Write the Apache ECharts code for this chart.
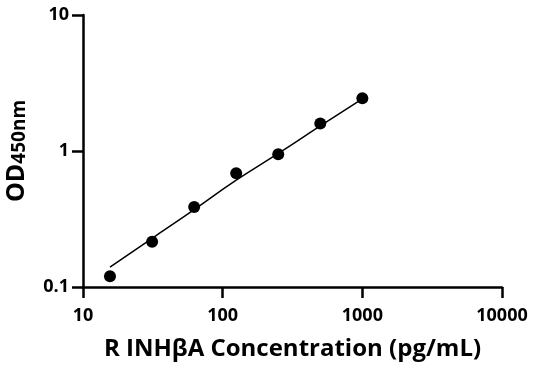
<!DOCTYPE html>
<html>
<head>
<meta charset="utf-8">
<script src="https://cdn.jsdelivr.net/npm/echarts@6/dist/echarts.min.js"></script>
<style>
html,body{margin:0;padding:0;background:#fff;}
#c{width:536px;height:371px;}
</style>
</head>
<body>
<div id="c"></div>
<script>
// Data
const concentrations = [15.6, 31.25, 62.5, 125, 250, 500, 1000];
const odValues = [0.12, 0.215, 0.387, 0.685, 0.946, 1.59, 2.44];
const fitX = [15.6, 31.25, 62.5, 125, 250, 500, 1000];
const fitY = [0.14, 0.228, 0.37, 0.61, 0.96, 1.53, 2.42];
const xTickLabels = ['10', '100', '1000', '10000'];
const yTickLabels = ['0.1', '1', '10'];

const chart = echarts.init(document.getElementById('c'), null, {renderer: 'canvas'});
const font = '"Open Sans", "DejaVu Sans", sans-serif';
const axisLineStyle = {color: '#000', width: 2.5};

chart.setOption({
  animation: false,
  backgroundColor: '#fff',
  grid: {left: 83, right: 34, top: 15, bottom: 84, containLabel: false, outerBoundsMode: 'none'},
  xAxis: {
    type: 'log', logBase: 10, min: 10, max: 10000,
    name: 'R INHβA Concentration (pg/mL)',
    nameLocation: 'middle', nameGap: 50,
    nameTextStyle: {fontFamily: font, fontWeight: 'bold', fontSize: 24, color: '#000'},
    axisLine: {show: true, onZero: false, lineStyle: axisLineStyle},
    axisTick: {show: true, length: 11, lineStyle: axisLineStyle},
    minorTick: {show: false},
    splitLine: {show: false},
    axisLabel: {
      margin: 20, fontFamily: font, fontWeight: 'bold', fontSize: 18, color: '#000',
      formatter: v => { const i = Math.round(Math.log10(v)) - 1; return xTickLabels[i] ?? ''; }
    }
  },
  yAxis: {
    type: 'log', logBase: 10, min: 0.1, max: 10,
    name: '{a|OD}{b|450nm}',
    nameLocation: 'middle', nameGap: 54,
    nameTextStyle: {
      fontFamily: font, fontWeight: 'bold', color: '#000',
      rich: {
        a: {fontFamily: font, fontWeight: 'bold', fontSize: 25, color: '#000', verticalAlign: 'bottom'},
        b: {fontFamily: font, fontWeight: 'bold', fontSize: 19, color: '#000', verticalAlign: 'bottom'}
      }
    },
    axisLine: {show: true, onZero: false, lineStyle: axisLineStyle},
    axisTick: {show: true, length: 11, lineStyle: axisLineStyle},
    minorTick: {show: false},
    splitLine: {show: false},
    axisLabel: {
      margin: 14, fontFamily: font, fontWeight: 'bold', fontSize: 18, color: '#000',
      formatter: v => { const i = Math.round(Math.log10(v)) + 1; return yTickLabels[i] ?? ''; }
    }
  },
  series: [
    {
      type: 'line',
      data: fitX.map((x, i) => [x, fitY[i]]),
      showSymbol: false, symbol: 'none', smooth: true,
      lineStyle: {color: '#000', width: 1.5},
      z: 2
    },
    {
      type: 'scatter',
      data: concentrations.map((x, i) => [x, odValues[i]]),
      symbol: 'circle', symbolSize: 12,
      itemStyle: {color: '#000', opacity: 1},
      z: 3
    }
  ]
});
</script>
</body>
</html>
